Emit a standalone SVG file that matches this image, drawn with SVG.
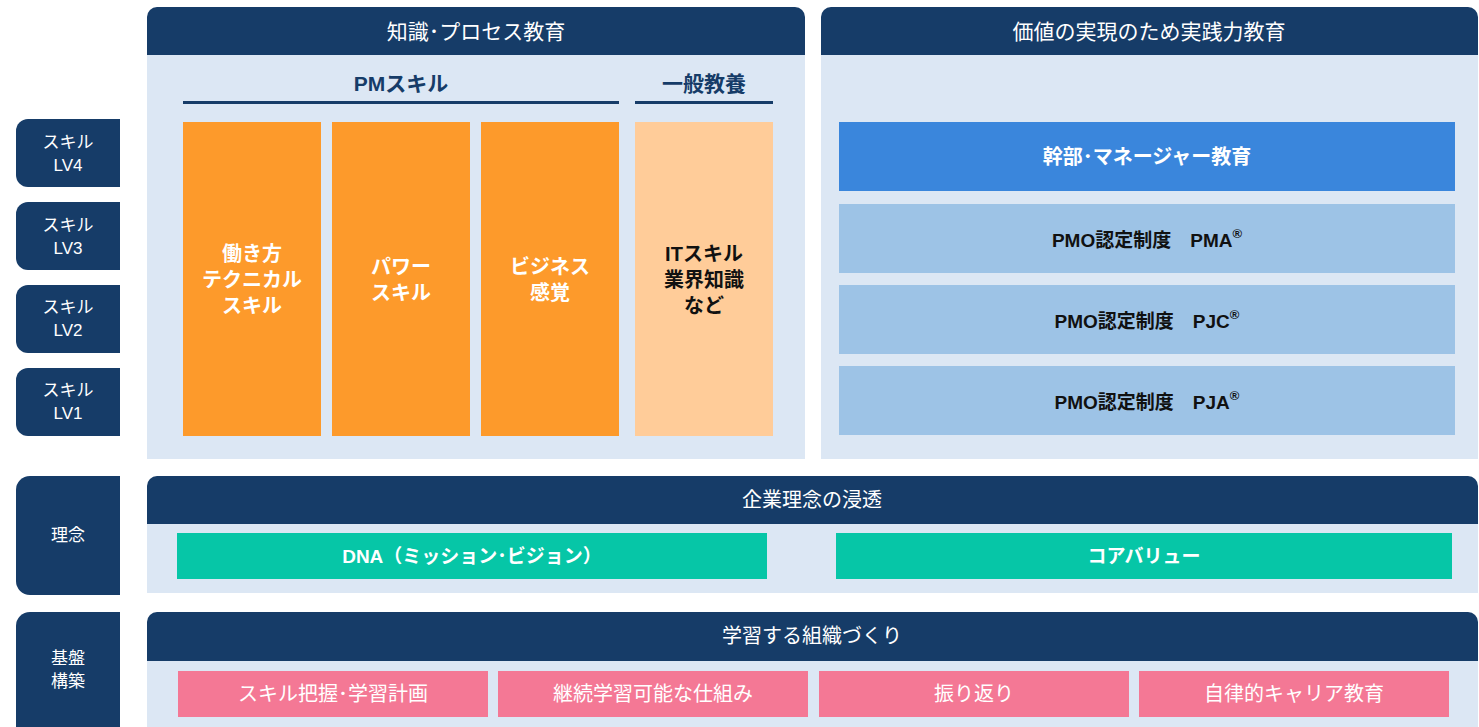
<svg xmlns="http://www.w3.org/2000/svg" width="1479" height="727" viewBox="0 0 1479 727">
<defs>
<style>
.navy{fill:#163C68}
.bg{fill:#DCE7F4}
.t{font-family:"Liberation Sans","Noto Sans CJK JP",sans-serif;text-anchor:middle;dominant-baseline:central}
.w{fill:#FFFFFF}
.b{font-weight:bold}
.h{font-size:20px;fill:#FFFFFF}
.hh{font-size:21px;fill:#FFFFFF}
.lab{font-size:17px;fill:#FFFFFF}
.col{font-size:20px;font-weight:bold;fill:#FFFFFF}
.pmo{font-size:19px;font-weight:bold;fill:#111111}
.sub{font-size:21px;font-weight:bold;fill:#163C68}
.pink{fill:#F47895}
.green{fill:#06C6A7}
</style>
</defs>
<rect width="1479" height="727" fill="#FFFFFF"/>

<g id="lv4"><path class="navy" d="M28,119 H120 V187 H28 A12,12 0 0 1 16,175 V131 A12,12 0 0 1 28,119 Z"/><text class="t lab" x="68" y="142">スキル</text><text class="t lab" x="68" y="165">LV4</text></g>
<g id="lv3"><path class="navy" d="M28,202 H120 V270 H28 A12,12 0 0 1 16,258 V214 A12,12 0 0 1 28,202 Z"/><text class="t lab" x="68" y="225">スキル</text><text class="t lab" x="68" y="248">LV3</text></g>
<g id="lv2"><path class="navy" d="M28,285 H120 V353 H28 A12,12 0 0 1 16,341 V297 A12,12 0 0 1 28,285 Z"/><text class="t lab" x="68" y="307">スキル</text><text class="t lab" x="68" y="330">LV2</text></g>
<g id="lv1"><path class="navy" d="M28,368 H120 V436 H28 A12,12 0 0 1 16,424 V380 A12,12 0 0 1 28,368 Z"/><text class="t lab" x="68" y="390">スキル</text><text class="t lab" x="68" y="413">LV1</text></g>

<g id="rinen"><path class="navy" d="M30,476 H120 V595 H30 A14,14 0 0 1 16,581 V490 A14,14 0 0 1 30,476 Z"/><text class="t lab" x="68" y="535">理念</text></g>
<g id="kiban"><path class="navy" d="M30,612 H120 V727 H16 V626 A14,14 0 0 1 30,612 Z"/><text class="t lab" x="68" y="658">基盤</text><text class="t lab" x="68" y="681">構築</text></g>

<g id="knowledge">
<rect class="bg" x="147" y="40" width="658" height="419"/>
<path class="navy" d="M157,7 H795 A10,10 0 0 1 805,17 V55 H147 V17 A10,10 0 0 1 157,7 Z"/>
<text class="t hh" x="476" y="31">知識･プロセス教育</text>
<text class="t sub" x="401" y="83">PMスキル</text>
<rect x="183" y="101" width="436" height="3" fill="#163C68"/>
<text class="t sub" x="704" y="83">一般教養</text>
<rect x="635" y="101" width="138" height="3" fill="#163C68"/>
</g>
<g id="work"><rect x="183" y="122" width="138" height="314" fill="#FD9A2B"/><text class="t col" x="252" y="254">働き方</text><text class="t col" x="252" y="280">テクニカル</text><text class="t col" x="252" y="306">スキル</text></g>
<g id="power"><rect x="332" y="122" width="138" height="314" fill="#FD9A2B"/><text class="t col" x="401" y="267">パワー</text><text class="t col" x="401" y="293">スキル</text></g>
<g id="business"><rect x="481" y="122" width="138" height="314" fill="#FD9A2B"/><text class="t col" x="550" y="267">ビジネス</text><text class="t col" x="550" y="293">感覚</text></g>
<g id="it"><rect x="635" y="122" width="138" height="314" fill="#FFCC99"/><text class="t col" style="fill:#111111" x="704" y="254">ITスキル</text><text class="t col" style="fill:#111111" x="704" y="280">業界知識</text><text class="t col" style="fill:#111111" x="704" y="306">など</text></g>

<g id="practice">
<rect class="bg" x="821" y="40" width="657" height="419"/>
<path class="navy" d="M831,7 H1468 A10,10 0 0 1 1478,17 V55 H821 V17 A10,10 0 0 1 831,7 Z"/>
<text class="t hh" x="1149" y="31">価値の実現のため実践力教育</text>
</g>
<g id="exec"><rect x="839" y="122" width="616" height="69" fill="#3A86DC"/><text class="t col" x="1147" y="157">幹部･マネージャー教育</text></g>
<g id="pma"><rect x="839" y="204" width="616" height="69" fill="#9DC3E6"/><text class="t pmo" x="1147" y="240">PMO認定制度　PMA<tspan font-size="13" dy="-7">®</tspan></text></g>
<g id="pjc"><rect x="839" y="285" width="616" height="69" fill="#9DC3E6"/><text class="t pmo" x="1147" y="321">PMO認定制度　PJC<tspan font-size="13" dy="-7">®</tspan></text></g>
<g id="pja"><rect x="839" y="366" width="616" height="69" fill="#9DC3E6"/><text class="t pmo" x="1147" y="402">PMO認定制度　PJA<tspan font-size="13" dy="-7">®</tspan></text></g>

<g id="philosophy">
<rect class="bg" x="147" y="500" width="1331" height="93"/>
<path class="navy" d="M157,476 H1468 A10,10 0 0 1 1478,486 V524 H147 V486 A10,10 0 0 1 157,476 Z"/>
<text class="t h" x="812" y="500">企業理念の浸透</text>
</g>
<g id="dna"><rect class="green" x="177" y="533" width="590" height="46"/><text class="t b" style="font-size:19px;fill:#fff" x="472" y="556">DNA（ミッション･ビジョン）</text></g>
<g id="corevalue"><rect class="green" x="836" y="533" width="616" height="46"/><text class="t" style="font-size:19px;fill:#fff;font-weight:bold" x="1144" y="556">コアバリュー</text></g>

<g id="foundation">
<rect class="bg" x="147" y="640" width="1331" height="87"/>
<path class="navy" d="M157,612 H1468 A10,10 0 0 1 1478,622 V661 H147 V622 A10,10 0 0 1 157,612 Z"/>
<text class="t h" x="812" y="636">学習する組織づくり</text>
</g>
<g id="skillplan"><rect class="pink" x="178" y="671" width="310" height="46"/><text class="t h" x="333" y="694">スキル把握･学習計画</text></g>
<g id="continuous"><rect class="pink" x="498" y="671" width="310" height="46"/><text class="t h" x="653" y="694">継続学習可能な仕組み</text></g>
<g id="reflection"><rect class="pink" x="819" y="671" width="310" height="46"/><text class="t h" x="974" y="694">振り返り</text></g>
<g id="career"><rect class="pink" x="1139" y="671" width="310" height="46"/><text class="t h" x="1294" y="694">自律的キャリア教育</text></g>

<g id="connectors"></g>
</svg>
